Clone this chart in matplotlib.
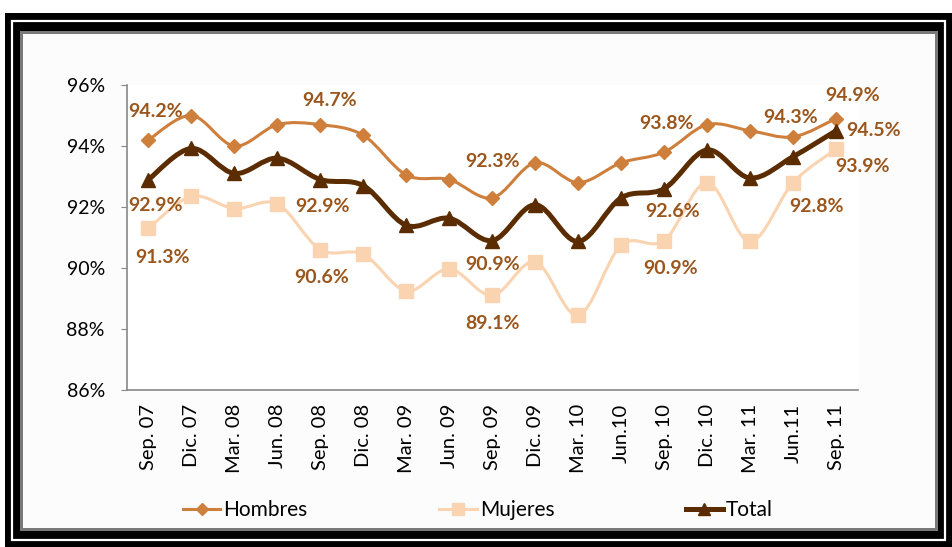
import matplotlib
matplotlib.use("Agg")
import matplotlib.pyplot as plt
from matplotlib.patches import Rectangle
from matplotlib.path import Path
from matplotlib.patches import PathPatch
import numpy as np

# datos
periodos = ["Sep. 07", "Dic. 07", "Mar. 08", "Jun. 08", "Sep. 08", "Dic. 08",
            "Mar. 09", "Jun. 09", "Sep. 09", "Dic. 09", "Mar. 10", "Jun.10",
            "Sep. 10", "Dic. 10", "Mar. 11", "Jun.11", "Sep. 11"]
hombres = [94.2, 95.0, 94.0, 94.7, 94.7, 94.35, 93.05, 92.9, 92.3, 93.45,
           92.8, 93.45, 93.8, 94.7, 94.5, 94.3, 94.9]
mujeres = [91.3, 92.35, 91.95, 92.1, 90.6, 90.45, 89.25, 89.97, 89.1, 90.2,
           88.45, 90.75, 90.9, 92.8, 90.87, 92.8, 93.9]
total = [92.9, 93.92, 93.1, 93.6, 92.9, 92.7, 91.4, 91.63, 90.9, 92.07,
         90.87, 92.3, 92.6, 93.87, 92.95, 93.65, 94.5]

# etiquetas: (serie, indice, texto, dx px, dy px)
etiquetas = [
    ("h", 0, "94.2%", 7, 28), ("t", 0, "92.9%", 7, -26), ("m", 0, "91.3%", 14, -29),
    ("h", 4, "94.7%", 9, 24), ("t", 4, "92.9%", 2, -27), ("m", 4, "90.6%", 1, -28),
    ("h", 8, "92.3%", 0, 36), ("t", 8, "90.9%", 0, -24), ("m", 8, "89.1%", 0, -28),
    ("h", 12, "93.8%", 2, 29), ("t", 12, "92.6%", 8, -23), ("m", 12, "90.9%", 6, -28),
    ("h", 15, "94.3%", -2, 19), ("m", 15, "92.8%", 23, -24),
    ("h", 16, "94.9%", 17, 23), ("t", 16, "94.5%", 38, 0), ("m", 16, "93.9%", 26, -17),
]

c_h = "#CF7F3C"
c_m = "#FAD3B0"
c_t = "#5A2C00"
c_lab = "#9A561C"

plt.rcParams["font.family"] = ["Lato", "DejaVu Sans"]

W, H = 952, 547
fig = plt.figure(figsize=(W / 100, H / 100), dpi=100)
fig.patch.set_facecolor("white")


def rect_px(x0, y0, x1, y1, **kw):
    fig.add_artist(Rectangle((x0 / W, 1 - y1 / H), (x1 - x0) / W, (y1 - y0) / H,
                             transform=fig.transFigure, **kw))


# marco negro
rect_px(5, 13, 952, 547, facecolor="black", edgecolor="none", zorder=0)
rect_px(12, 21, 945, 540, facecolor="none", edgecolor="white", linewidth=1.6, zorder=0)
rect_px(20, 31, 938, 531, facecolor="#7a7a7a", edgecolor="none", zorder=0)
rect_px(23, 34, 935, 528, facecolor="#fcfcfc", edgecolor="none", zorder=0)

ax = fig.add_axes([127 / W, 1 - 390 / H, (857.5 - 127) / W, (390 - 85) / H])
ax.set_facecolor("white")
x = np.arange(len(periodos))


def suave(xs, ys):
    # curva suavizada tipo Excel (bezier por catmull-rom)
    pts = np.column_stack([xs, ys]).astype(float)
    verts = [pts[0]]
    codes = [Path.MOVETO]
    n = len(pts)
    for i in range(n - 1):
        p0 = pts[max(i - 1, 0)]
        p1 = pts[i]
        p2 = pts[i + 1]
        p3 = pts[min(i + 2, n - 1)]
        c1 = p1 + (p2 - p0) / 6
        c2 = p2 - (p3 - p1) / 6
        verts += [c1, c2, p2]
        codes += [Path.CURVE4] * 3
    return Path(verts, codes)


series = [
    ("h", hombres, c_h, 2.2, "D", 7, "Hombres"),
    ("m", mujeres, c_m, 2.2, "s", 10, "Mujeres"),
    ("t", total, c_t, 3.6, "^", 9.5, "Total"),
]
datos = {}
handles = []
for key, vals, col, lw, mk, ms, nombre in series:
    datos[key] = vals
    ax.add_patch(PathPatch(suave(x, vals), facecolor="none", edgecolor=col,
                           linewidth=lw, zorder=2))
    ax.plot(x, vals, linestyle="none", marker=mk, markersize=ms, color=col, zorder=3)
    h, = ax.plot([], [], color=col, linewidth=lw, marker=mk, markersize=ms * 0.9,
                 label=nombre)
    handles.append(h)

for key, i, txt, dx, dy in etiquetas:
    ax.annotate(txt, (x[i], datos[key][i]), xytext=(dx, dy), textcoords="offset pixels",
                ha="center", va="center", fontsize=14, fontweight="bold",
                color=c_lab, zorder=5)

ax.set_xlim(-0.5, len(periodos) - 0.5)
ax.set_ylim(86, 96)
ax.set_yticks([86, 88, 90, 92, 94, 96])
ax.set_yticklabels([f"{v}%" for v in [86, 88, 90, 92, 94, 96]])
ax.set_xticks(x)
ax.set_xticklabels(periodos, rotation=90)
ax.tick_params(axis="y", labelsize=14, length=4, color="#888888", pad=12)
ax.tick_params(axis="x", labelsize=14.5, length=0, pad=10)
for s in ["top", "right"]:
    ax.spines[s].set_visible(False)
for s in ["left", "bottom"]:
    ax.spines[s].set_color("#888888")
    ax.spines[s].set_linewidth(1.2)

fig.legend(handles=handles, loc="center", bbox_to_anchor=(478 / W, 1 - 510 / H),
           ncol=3, frameon=False, fontsize=15, handlelength=1.8, handletextpad=0.15,
           columnspacing=6.3)

fig.savefig("out.png", dpi=100)
